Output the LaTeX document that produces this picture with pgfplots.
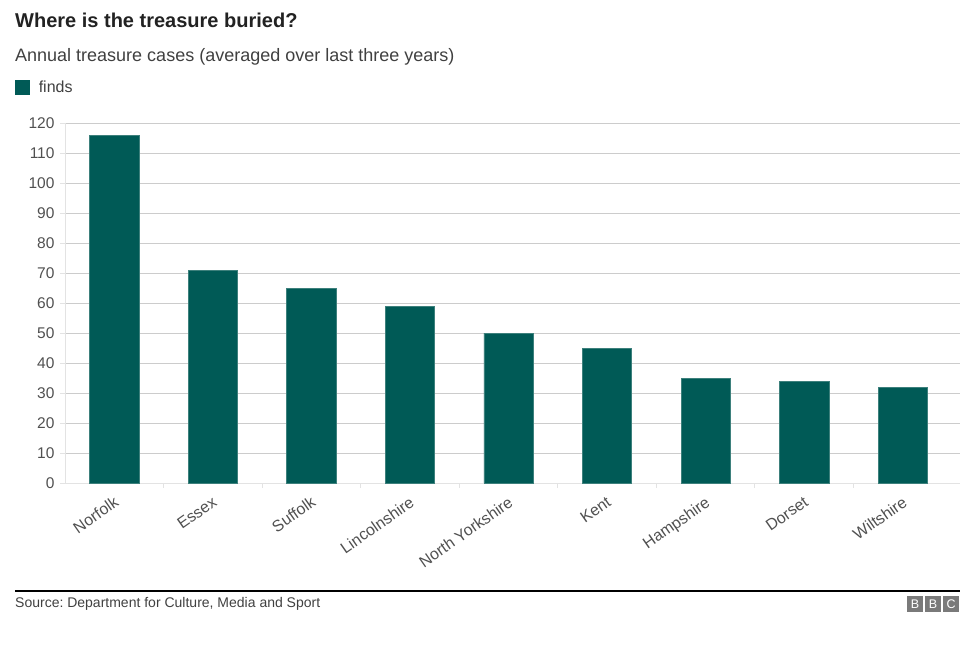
\documentclass[border=0pt]{standalone}
\usepackage{fontspec}
\setmainfont{Liberation Sans}
\usepackage{pgfplots}
\pgfplotsset{compat=1.18}
\definecolor{barteal}{HTML}{005A56}
\definecolor{baredge}{HTML}{3D807C}
\definecolor{titlegray}{HTML}{222222}
\definecolor{textgray}{HTML}{404040}
\definecolor{tickgray}{HTML}{505050}
\definecolor{gridgray}{HTML}{CCCCCC}
\definecolor{axisgray}{HTML}{E3E3E3}
\definecolor{bbcgray}{HTML}{7A7A7A}
\frenchspacing

\begin{document}
\begin{tikzpicture}[x=1pt,y=1pt]
\useasboundingbox (0,0) rectangle (976,-661);

\node[anchor=base west, inner sep=0pt, text=titlegray,
      font=\fontsize{20}{24}\selectfont\bfseries] at (15,-28) {Where is the treasure buried?};
\node[anchor=base west, inner sep=0pt, text=textgray,
      font=\fontsize{18}{22}\selectfont] at (15,-61) {Annual treasure cases (averaged over last three years)};

\begin{axis}[
    at={(65pt,-483pt)}, anchor=south west,
    scale only axis, width=895pt, height=360pt,
    xmin=-0.5, xmax=8.58, ymin=0, ymax=120,
    ybar, bar width=0.5,
    axis x line*=bottom, axis y line*=left,
    axis line style={-, draw=axisgray, line width=1pt},
    ymajorgrids, grid style={draw=gridgray, line width=0.8pt},
    ytick={0,10,...,120},
    xtick={0,...,8},
    xticklabels={Norfolk,Essex,Suffolk,Lincolnshire,North Yorkshire,Kent,Hampshire,Dorset,Wiltshire},
    tick align=outside, major tick length=5pt,
    tick style={draw=axisgray, line width=1pt},
    xtick style={draw=none},
    extra x ticks={0.5,1.5,...,7.5},
    extra x tick labels={},
    extra x tick style={xtick style={draw=axisgray, line width=1pt}},
    /pgf/number format/assume math mode=true,
    yticklabel style={font=\fontsize{15.5}{18}\selectfont, text=tickgray, xshift=-2pt},
    xticklabel style={font=\fontsize{16}{19}\selectfont, text=tickgray, rotate=35, anchor=north east, yshift=-2pt, xshift=-2pt},
    legend style={at={(axis description cs:-0.0559,1.122)}, anchor=north west,
                  draw=none, fill=none, inner sep=0pt,
                  font=\fontsize{16}{19}\selectfont, text=textgray},
    legend image code/.code={\fill[barteal] (0pt,-6pt) rectangle (14pt,8pt); \path (21pt,-5pt);},
    legend cell align=left,
]
\addplot[fill=barteal, draw=baredge, line width=0.6pt]
    coordinates {
        (0,116)
        (1,71)
        (2,65)
        (3,59)
        (4,50)
        (5,45)
        (6,35)
        (7,34)
        (8,32)
    };
\legend{finds}
\end{axis}

\draw[black, line width=1.2pt] (15,-591) -- (960,-591);
\node[anchor=base west, inner sep=0pt, text=textgray,
      font=\fontsize{14}{17}\selectfont] at (15,-607) {Source: Department for Culture, Media and Sport};
\foreach \x/\l in {907/B,925/B,943/C} {
    \fill[bbcgray] (\x,-596) rectangle (\x+16,-612);
    \node[text=white, inner sep=0pt, font=\fontsize{12.5}{13}\selectfont] at (\x+8,-604) {\l};
}
\end{tikzpicture}
\end{document}
